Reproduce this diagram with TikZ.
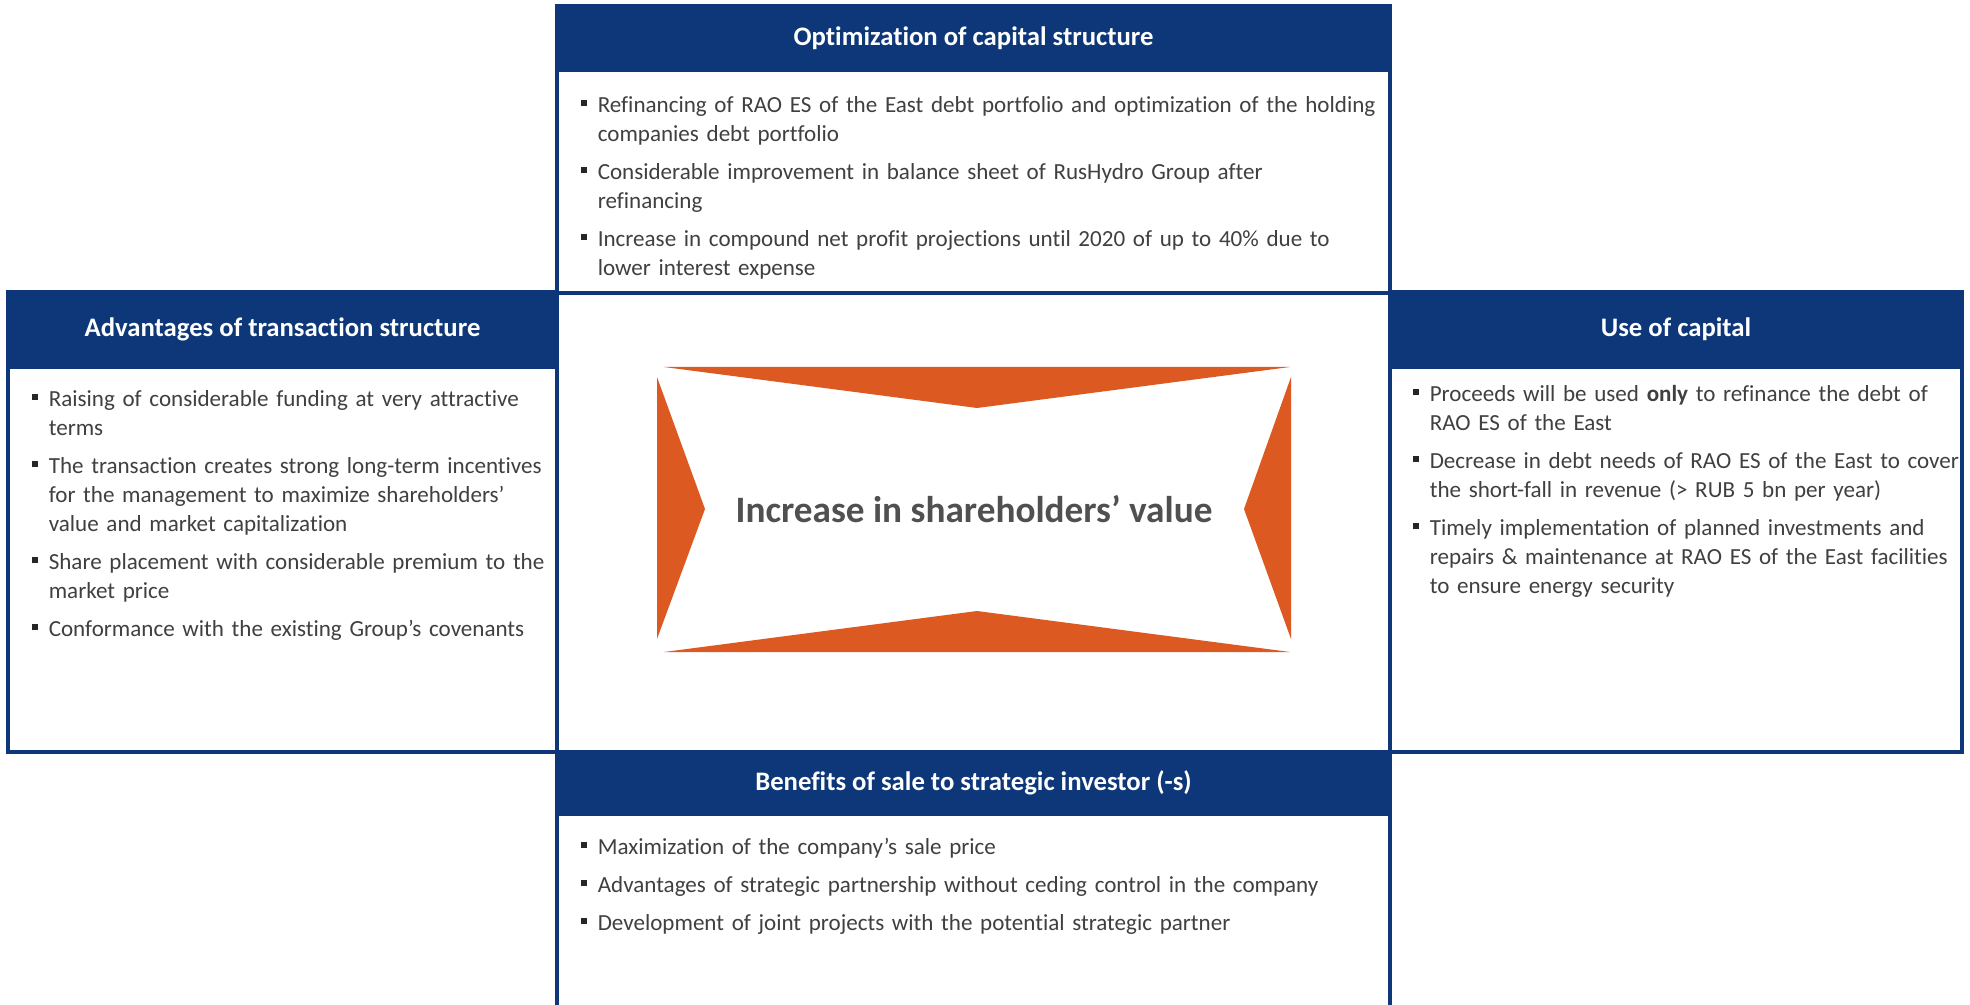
\documentclass[tikz,border=0pt]{standalone}
\usepackage{fontspec}
\setmainfont{Carlito}[Ligatures=NoCommon]
\usetikzlibrary{positioning}
\definecolor{navy}{RGB}{14,55,121}
\definecolor{accent}{HTML}{DC5A22}
\definecolor{bodytxt}{HTML}{404040}
\definecolor{goaltxt}{HTML}{505050}
\definecolor{bulletc}{HTML}{262626}
% one square-bulleted point, continuation lines hang under the text
\newcommand{\bpoint}[1]{\hangindent=0.42cm\hangafter=1\noindent%
  \makebox[0.42cm][l]{\textcolor{bulletc}{\rule[0.15cm]{0.15cm}{0.15cm}}}#1\par}

\begin{document}
\begin{tikzpicture}[
    every node/.style={outer sep=0pt},
    panel/.style={rectangle, draw=navy, line width=2.5pt, fill=white},
    hdr/.style={rectangle, draw=navy, line width=2.5pt, fill=navy, text=white,
                font=\bfseries\fontsize{19}{22}\selectfont, anchor=north},
    body/.style={anchor=north west, inner sep=0pt, text=bodytxt, text width=#1,
                 font=\fontsize{16.4}{20.7}\selectfont,
                 execute at begin node={\setlength{\parskip}{6.3pt}}}
]
    \useasboundingbox (0,0) rectangle (49.25,25.1);
    \clip (0,0) rectangle (49.25,25.1);

    % side panels
    \node[panel, minimum width=13.725cm, minimum height=11.5cm] (advbox) at (7.0625,12.05) {};
    \node[panel, minimum width=14.3cm, minimum height=11.5cm]   (usebox) at (41.9,12.05) {};
    % top and bottom panels (bottom one runs off the page)
    \node[panel, minimum width=20.825cm, minimum height=7.175cm] (optbox)  at (24.3375,21.3625) {};
    \node[panel, minimum width=20.825cm, minimum height=6.8cm]   (salebox) at (24.3375,2.9) {};

    \node[hdr, minimum width=20.825cm, minimum height=1.6cm]   (opthdr)  at (optbox.north)  {Optimization of capital structure};
    \node[hdr, minimum width=13.725cm, minimum height=1.875cm] (advhdr)  at (advbox.north)  {Advantages of transaction structure};
    \node[hdr, minimum width=14.3cm, minimum height=1.875cm]   (usehdr)  at (usebox.north)  {Use of capital};
    \node[hdr, minimum width=20.825cm, minimum height=1.55cm]  (salehdr) at (salebox.north) {Benefits of sale to strategic investor (-s)};

    \node[body=21cm] (optlist) at (14.525,22.7) {%
        \bpoint{Refinancing of RAO ES of the East debt portfolio and optimization of the holding\newline companies debt portfolio}%
        \bpoint{Considerable improvement in balance sheet of RusHydro Group after\newline refinancing}%
        \bpoint{Increase in compound net profit projections until 2020 of up to 40\% due to\newline lower interest expense}};
    \node[body=14cm] (advlist) at (0.8,15.35) {%
        \bpoint{Raising of considerable funding at very attractive\newline terms}%
        \bpoint{The transaction creates strong long-term incentives\newline for the management to maximize shareholders’\newline value and market capitalization}%
        \bpoint{Share placement with considerable premium to the\newline market price}%
        \bpoint{Conformance with the existing Group’s covenants}};
    \node[body=15cm] (uselist) at (35.325,15.475) {%
        \bpoint{Proceeds will be used \textbf{only} to refinance the debt of\newline RAO ES of the East}%
        \bpoint{Decrease in debt needs of RAO ES of the East to cover\newline the short-fall in revenue (> RUB 5 bn per year)}%
        \bpoint{Timely implementation of planned investments and\newline repairs \& maintenance at RAO ES of the East facilities\newline to ensure energy security}};
    \node[body=21cm] (salelist) at (14.525,4.15) {%
        \bpoint{Maximization of the company’s sale price}%
        \bpoint{Advantages of strategic partnership without ceding control in the company}%
        \bpoint{Development of joint projects with the potential strategic partner}};

    % orange frame around the goal
    \fill[accent] (16.6,15.925) -- (32.25,15.925) -- (24.425,14.9) -- cycle;
    \fill[accent] (16.6,8.8) -- (32.25,8.8) -- (24.425,9.825) -- cycle;
    \fill[accent] (16.425,15.675) -- (17.625,12.375) -- (16.425,9.125) -- cycle;
    \fill[accent] (32.275,15.675) -- (31.1,12.375) -- (32.275,9.125) -- cycle;
    \node[font=\bfseries\fontsize{26.5}{30}\selectfont, text=goaltxt] (goal) at (24.35,12.375) {Increase in shareholders’ value};
\end{tikzpicture}
\end{document}
